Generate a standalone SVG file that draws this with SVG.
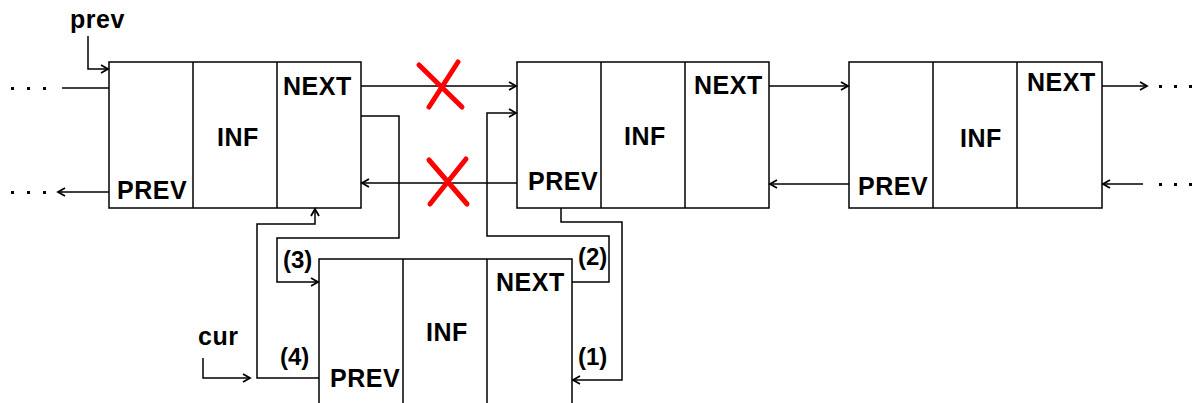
<svg xmlns="http://www.w3.org/2000/svg" width="1195" height="403" viewBox="0 0 1195 403">
<style>
.box{fill:#fff;stroke:#000;stroke-width:1.5}
.div{stroke:#000;stroke-width:1.5}
.t{font-family:"Liberation Sans",Arial,sans-serif;font-weight:bold;font-size:25px;letter-spacing:0.5px;fill:#000}
.s{font-family:"Liberation Sans",Arial,sans-serif;font-weight:bold;font-size:24px;fill:#000}
.c{fill:none;stroke:#000;stroke-width:1.5}
.x{stroke:#f00;stroke-width:5;stroke-linecap:round}
.d{fill:#000}
</style>
<defs>
<marker id="ah" markerUnits="userSpaceOnUse" markerWidth="12" markerHeight="12" refX="8" refY="5" orient="auto">
<path d="M1,1 L8,5 L1,9" fill="none" stroke="#000" stroke-width="1.8"/>
</marker>
</defs>
<g id="node1">
<rect class="box" x="109" y="62" width="252" height="146"/>
<line class="div" x1="193" y1="62" x2="193" y2="208"/>
<line class="div" x1="277" y1="62" x2="277" y2="208"/>
<text class="t" x="283" y="95">NEXT</text>
<text class="t" x="217" y="146">INF</text>
<text class="t" x="117" y="199">PREV</text>
</g>
<g id="node2">
<rect class="box" x="517" y="62" width="252" height="146"/>
<line class="div" x1="601" y1="62" x2="601" y2="208"/>
<line class="div" x1="685" y1="62" x2="685" y2="208"/>
<text class="t" x="694" y="94">NEXT</text>
<text class="t" x="624" y="145">INF</text>
<text class="t" x="528" y="190">PREV</text>
</g>
<g id="node3">
<rect class="box" x="849" y="62" width="253" height="146"/>
<line class="div" x1="933" y1="62" x2="933" y2="208"/>
<line class="div" x1="1017" y1="62" x2="1017" y2="208"/>
<text class="t" x="1027" y="91">NEXT</text>
<text class="t" x="960" y="147">INF</text>
<text class="t" x="858" y="195">PREV</text>
</g>
<g id="node4">
<rect class="box" x="319" y="259" width="253" height="160"/>
<line class="div" x1="403" y1="259" x2="403" y2="419"/>
<line class="div" x1="487" y1="259" x2="487" y2="419"/>
<text class="t" x="496" y="291">NEXT</text>
<text class="t" x="426" y="341">INF</text>
<text class="t" x="330" y="387">PREV</text>
</g>
<g id="labels">
<text class="t" x="70" y="28">prev</text>
<text class="t" x="198" y="345">cur</text>
<text class="s" x="283" y="268">(3)</text>
<text class="s" x="578" y="265">(2)</text>
<text class="s" x="578" y="365">(1)</text>
<text class="s" x="280" y="365">(4)</text>
</g>
<g id="dots">
<rect class="d" x="11" y="87" width="3" height="3"/>
<rect class="d" x="27" y="87" width="3" height="3"/>
<rect class="d" x="43" y="87" width="3" height="3"/>
<rect class="d" x="11" y="191" width="3" height="3"/>
<rect class="d" x="27" y="191" width="3" height="3"/>
<rect class="d" x="43" y="191" width="3" height="3"/>
<rect class="d" x="1159" y="85" width="3" height="3"/>
<rect class="d" x="1174" y="85" width="3" height="3"/>
<rect class="d" x="1189" y="85" width="3" height="3"/>
<rect class="d" x="1159" y="183" width="3" height="3"/>
<rect class="d" x="1174" y="183" width="3" height="3"/>
<rect class="d" x="1189" y="183" width="3" height="3"/>
</g>
<g id="connectors">
<path class="c" d="M88,36 V69 H108" marker-end="url(#ah)"/>
<path class="c" d="M62,88 H109"/>
<path class="c" d="M109,192 H58" marker-end="url(#ah)"/>
<path class="c" d="M361,86 H516" marker-end="url(#ah)"/>
<path class="c" d="M517,183 H362" marker-end="url(#ah)"/>
<path class="c" d="M361,116 H399 V238 H277 V282 H318" marker-end="url(#ah)"/>
<path class="c" d="M572,282 H609 V236 H487 V113 H516" marker-end="url(#ah)"/>
<path class="c" d="M561,208 V222 H622 V380 H573" marker-end="url(#ah)"/>
<path class="c" d="M319,378 H257 V224 H315 V209" marker-end="url(#ah)"/>
<path class="c" d="M203,358 V378 H250" marker-end="url(#ah)"/>
<path class="c" d="M769,86 H848" marker-end="url(#ah)"/>
<path class="c" d="M849,184 H770" marker-end="url(#ah)"/>
<path class="c" d="M1102,86 H1147" marker-end="url(#ah)"/>
<path class="c" d="M1143,184 H1103" marker-end="url(#ah)"/>
</g>
<g id="crosses">
<line class="x" x1="419" y1="65" x2="462" y2="107"/>
<line class="x" x1="458" y1="62" x2="429" y2="107"/>
<line class="x" x1="429" y1="160" x2="467" y2="204"/>
<line class="x" x1="466" y1="159" x2="430" y2="204"/>
</g>
</svg>
